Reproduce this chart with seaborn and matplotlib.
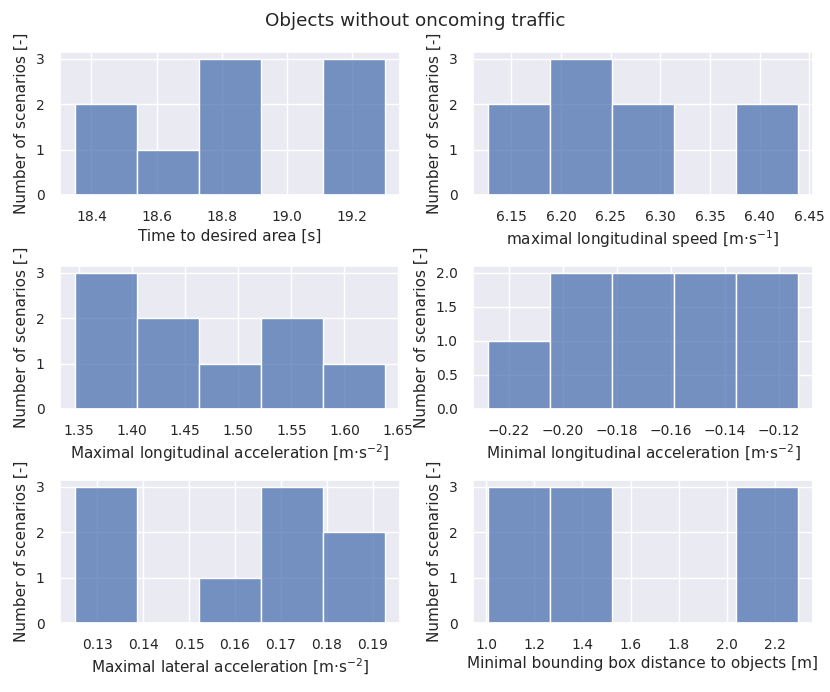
import numpy as np
import pandas as pd
import seaborn as sns
import matplotlib
matplotlib.use("Agg")
import matplotlib.pyplot as plt

# ---- data: histogram bin range (min, max of samples) and counts per bin (5 bins) ----
time_range = (18.351, 19.300)
time_counts = [2, 1, 3, 0, 3]

speed_range = (6.127, 6.438)
speed_counts = [2, 3, 2, 0, 2]

maxlon_range = (1.3469, 1.6377)
maxlon_counts = [3, 2, 1, 2, 1]

minlon_range = (-0.2275, -0.1130)
minlon_counts = [1, 2, 2, 2, 2]

lat_range = (0.12527, 0.19255)
lat_counts = [3, 0, 1, 3, 2]

dist_range = (1.0097, 2.2930)
dist_counts = [3, 3, 0, 0, 3]

xlabels = [
    "Time to desired area [s]",
    "maximal longitudinal speed [m·s$^{-1}$]",
    "Maximal longitudinal acceleration [m·s$^{-2}$]",
    "Minimal longitudinal acceleration [m·s$^{-2}$]",
    "Maximal lateral acceleration [m·s$^{-2}$]",
    "Minimal bounding box distance to objects [m]",
]
ylabel = "Number of scenarios [-]"
title = "Objects without oncoming traffic"

panels = [
    (time_range, time_counts),
    (speed_range, speed_counts),
    (maxlon_range, maxlon_counts),
    (minlon_range, minlon_counts),
    (lat_range, lat_counts),
    (dist_range, dist_counts),
]

sns.set_theme(style="darkgrid")
plt.rcParams["font.family"] = ["DejaVu Sans"]

fig, axes = plt.subplots(3, 2, figsize=(8.3, 6.92), dpi=100)
fig.subplots_adjust(left=0.0723, right=0.9795, top=0.925, bottom=0.0997,
                    wspace=0.2147, hspace=0.4965)

for ax, (rng, counts), xl in zip(axes.flat, panels, xlabels):
    lo, hi = rng
    n = len(counts)
    edges = np.linspace(lo, hi, n + 1)
    centers = (edges[:-1] + edges[1:]) / 2
    df = pd.DataFrame({"value": centers, "count": counts})
    sns.histplot(data=df, x="value", weights="count", bins=n, binrange=(lo, hi), ax=ax)
    ax.set_xlabel(xl, fontsize=11, labelpad=3)
    ax.set_ylabel(ylabel, fontsize=11, labelpad=5)
    ax.tick_params(labelsize=10, pad=5)

fig.suptitle(title, fontsize=13.2, y=0.982)
fig.savefig("out.png", dpi=100)
